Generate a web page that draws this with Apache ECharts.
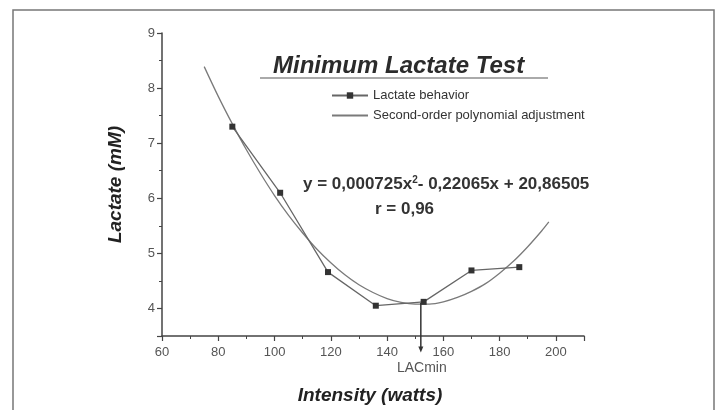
<!DOCTYPE html>
<html>
<head>
<meta charset="utf-8">
<script src="https://cdn.jsdelivr.net/npm/echarts@6/dist/echarts.min.js"></script>
<style>
  html, body { margin: 0; padding: 0; background: #fff; }
  #chart { width: 720px; height: 410px; }
</style>
</head>
<body>
<div id="chart"></div>
<script>
// measured lactate points (watts, mM)
var intensity = [85, 102, 119, 136, 153, 170, 187];
var lactate = [7.3, 6.1, 4.66, 4.05, 4.12, 4.69, 4.75];

// points
var fitX = [75, 80, 85, 90, 95, 100, 105, 110, 115, 120, 125, 130, 135,
            140, 145, 150, 155, 160, 165, 170, 175, 180, 185, 190, 195, 197.5];
var fitY = [8.39, 7.85, 7.35, 6.88, 6.45, 6.05, 5.69, 5.37, 5.08, 4.83, 4.61, 4.43, 4.29,
            4.18, 4.11, 4.08, 4.08, 4.12, 4.2, 4.31, 4.45, 4.64, 4.86, 5.12, 5.41, 5.57];

// LACmin arrow: x, top, bottom
var lacMin = [[152, 4.1, 3.2]];

var narrow = "'Liberation Sans Narrow', 'Liberation Sans', Arial, sans-serif";
var sans = "'Liberation Sans', Arial, sans-serif";

window.onload = function () {
    var chartDom = document.getElementById('chart');
    var myChart = echarts.init(chartDom, null, { renderer: 'canvas' });

    var lacData = intensity.map(function (v, i) { return [v, lactate[i]]; });
    var fitData = fitX.map(function (v, i) { return [v, fitY[i]]; });

    var option = {
        backgroundColor: '#fff',
        animation: false,
        title: {
            text: 'Minimum Lactate Test',
            left: 268,
            top: 49,
            textStyle: {
                fontFamily: sans,
                fontSize: 24,
                fontWeight: 'bold',
                fontStyle: 'italic',
                color: '#2b2b2b'
            }
        },
        legend: {
            data: [
                'Lactate behavior',
                { name: 'Second-order polynomial adjustment', itemStyle: { opacity: 0 } }
            ],
            orient: 'vertical',
            left: 326,
            top: 84,
            itemWidth: 36,
            itemHeight: 8,
            itemGap: 7,
            textStyle: { fontFamily: sans, fontSize: 13, color: '#333' }
        },
        grid: { left: 162, right: 136, top: 33, bottom: 74 },
        xAxis: {
            type: 'value',
            min: 60,
            max: 210,
            interval: 20,
            name: 'Intensity (watts)',
            nameLocation: 'middle',
            nameGap: 50,
            nameTextStyle: {
                fontFamily: sans,
                fontSize: 19,
                fontWeight: 'bold',
                fontStyle: 'italic',
                color: '#222',
                padding: [0, 6, 0, 0]
            },
            axisLine: { lineStyle: { color: '#444', width: 1.5 } },
            axisTick: { length: 5, lineStyle: { color: '#444', width: 1.2 } },
            minorTick: { show: true, splitNumber: 2, length: 3, lineStyle: { color: '#444' } },
            splitLine: { show: false },
            axisLabel: {
                showMaxLabel: false,
                fontFamily: narrow,
                fontSize: 13,
                color: '#555',
                margin: 10
            }
        },
        yAxis: {
            type: 'value',
            min: 3.5,
            max: 9,
            name: 'Lactate (mM)',
            nameLocation: 'middle',
            nameGap: 37,
            nameTextStyle: {
                fontFamily: sans,
                fontSize: 19,
                fontWeight: 'bold',
                fontStyle: 'italic',
                color: '#222'
            },
            axisLine: { show: true, lineStyle: { color: '#444', width: 1.5 } },
            axisTick: { show: true, length: 5, lineStyle: { color: '#444', width: 1.2 } },
            minorTick: { show: true, splitNumber: 2, length: 3, lineStyle: { color: '#444' } },
            splitLine: { show: false },
            axisLabel: {
                showMinLabel: false,
                fontFamily: narrow,
                fontSize: 13,
                color: '#555',
                margin: 7
            }
        },
        graphic: [
            {
                type: 'rect',
                shape: { x: 13, y: 10, width: 701, height: 420 },
                style: { fill: null, stroke: '#777', lineWidth: 1.5 },
                silent: true
            },
            {
                type: 'line',
                shape: { x1: 260, y1: 78, x2: 548, y2: 78 },
                style: { stroke: '#aaa', lineWidth: 2 },
                silent: true
            },
            {
                type: 'text',
                left: 303,
                top: 175,
                style: {
                    text: '{a|y = 0,000725x}{s|2}{a|- 0,22065x + 20,86505}',
                    rich: {
                        a: { fontFamily: narrow, fontSize: 17, fontWeight: 'bold', fill: '#333' },
                        s: { fontFamily: narrow, fontSize: 10, fontWeight: 'bold', fill: '#333', verticalAlign: 'top', padding: [0, 0, 8, 0] }
                    }
                }
            },
            {
                type: 'text',
                left: 375,
                top: 201,
                style: {
                    text: 'r = 0,96',
                    fontFamily: narrow,
                    fontSize: 17,
                    fontWeight: 'bold',
                    fill: '#333'
                }
            }
        ],
        series: [
            {
                name: 'Second-order polynomial adjustment',
                type: 'line',
                data: fitData,
                smooth: 0.3,
                symbol: 'none',
                lineStyle: { color: '#7a7a7a', width: 1.3 },
                itemStyle: { color: '#7a7a7a' },
                z: 2
            },
            {
                name: 'Lactate behavior',
                type: 'line',
                data: lacData,
                symbol: 'rect',
                symbolSize: 6,
                lineStyle: { color: '#666', width: 1.3 },
                itemStyle: { color: '#333' },
                z: 3
            },
            {
                name: 'LACmin',
                type: 'custom',
                clip: false,
                silent: true,
                data: lacMin,
                z: 4,
                renderItem: function (params, api) {
                    var top = api.coord([api.value(0), api.value(1)]);
                    var bot = api.coord([api.value(0), api.value(2)]);
                    return {
                        type: 'group',
                        children: [
                            {
                                type: 'line',
                                shape: { x1: top[0], y1: top[1], x2: bot[0], y2: bot[1] - 5 },
                                style: { stroke: '#333', lineWidth: 1.5 }
                            },
                            {
                                type: 'polygon',
                                shape: { points: [[bot[0] - 2.5, bot[1] - 6], [bot[0] + 2.5, bot[1] - 6], [bot[0], bot[1]]] },
                                style: { fill: '#333' }
                            },
                            {
                                type: 'text',
                                style: {
                                    text: 'LACmin',
                                    x: bot[0] + 1,
                                    y: bot[1] + 9,
                                    align: 'center',
                                    verticalAlign: 'top',
                                    fontFamily: narrow,
                                    fontSize: 14,
                                    fill: '#555'
                                }
                            }
                        ]
                    };
                }
            }
        ]
    };

    option && myChart.setOption(option);
};
</script>
</body>
</html>
